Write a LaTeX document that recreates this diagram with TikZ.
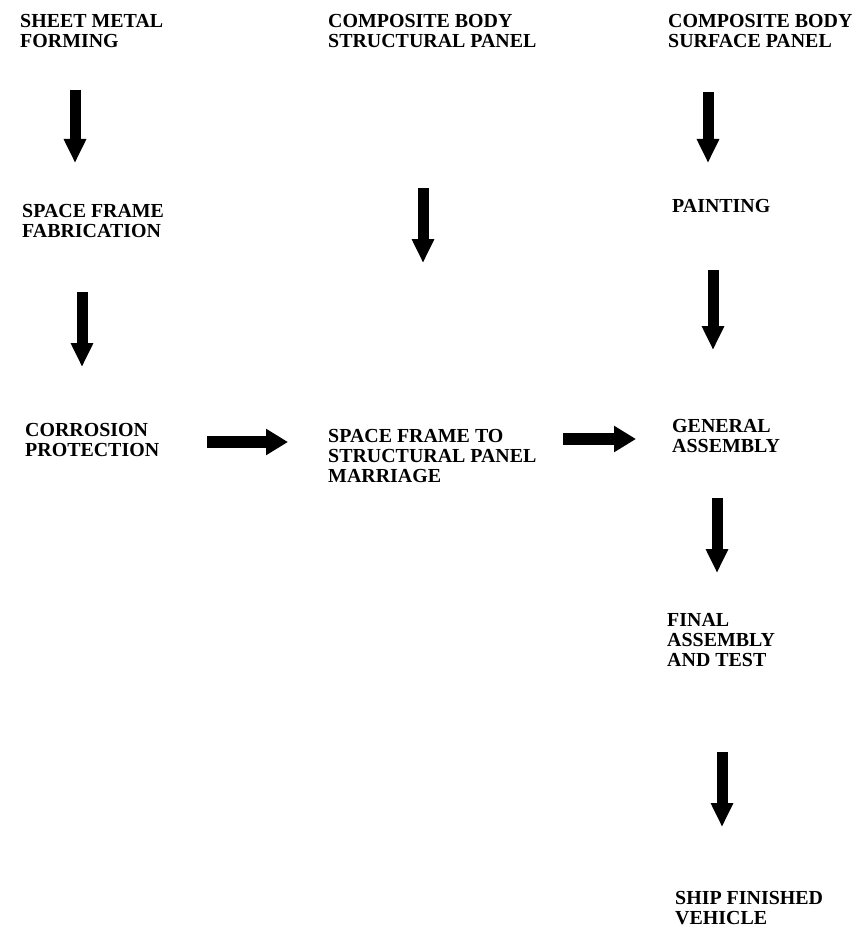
\documentclass[tikz,border=0pt]{standalone}
\usepackage{fontspec}
\setmainfont{Liberation Serif}
\usetikzlibrary{arrows.meta}

\begin{document}
\begin{tikzpicture}[
    x=0.3mm, y=-0.3mm,
    step label/.style={anchor=north west, inner sep=0pt, align=left, font=\bfseries\fontsize{17}{17}\selectfont},
    fat down/.style={line width=3.3mm, -{Triangle[length=7.2mm, width=6.3mm]}},
    fat right/.style={line width=3.6mm, -{Triangle[length=6.6mm, width=7.5mm]}}
  ]
    \useasboundingbox (0,0) rectangle (867,934);

    % process steps
    \node[step label] (sheet) at (20,14) {SHEET METAL\\FORMING};
    \node[step label] (structpanel) at (328,14) {COMPOSITE BODY\\STRUCTURAL PANEL};
    \node[step label] (surfpanel) at (668,14) {COMPOSITE BODY\\SURFACE PANEL};
    \node[step label] (frame) at (22,204) {SPACE FRAME\\FABRICATION};
    \node[step label] (painting) at (672,199) {PAINTING};
    \node[step label] (corrosion) at (25,423) {CORROSION\\PROTECTION};
    \node[step label] (marriage) at (328,429) {SPACE FRAME TO\\STRUCTURAL PANEL\\MARRIAGE};
    \node[step label] (general) at (672,419) {GENERAL\\ASSEMBLY};
    \node[step label] (final) at (667,613) {FINAL\\ASSEMBLY\\AND TEST};
    \node[step label] (ship) at (675,891) {SHIP FINISHED\\VEHICLE};

    % arrow ends
    \coordinate (sheet-out) at (75,90);   \coordinate (frame-in) at (75,163);
    \coordinate (frame-out) at (82,292);  \coordinate (corrosion-in) at (82,367);
    \coordinate (struct-out) at (423,188); \coordinate (marriage-in) at (423,263);
    \coordinate (surf-out) at (708,92);   \coordinate (painting-in) at (708,163);
    \coordinate (painting-out) at (713,270); \coordinate (general-in) at (713,350);
    \coordinate (corrosion-out) at (207,442); \coordinate (marriage-left) at (288,442);
    \coordinate (marriage-out) at (563,439); \coordinate (general-left) at (636,439);
    \coordinate (general-out) at (717,498); \coordinate (final-in) at (717,573);
    \coordinate (final-out) at (722,752); \coordinate (ship-in) at (722,827);

    \draw[fat down] (sheet-out) -- (frame-in);
    \draw[fat down] (frame-out) -- (corrosion-in);
    \draw[fat down] (struct-out) -- (marriage-in);
    \draw[fat down] (surf-out) -- (painting-in);
    \draw[fat down] (painting-out) -- (general-in);
    \draw[fat right] (corrosion-out) -- (marriage-left);
    \draw[fat right] (marriage-out) -- (general-left);
    \draw[fat down] (general-out) -- (final-in);
    \draw[fat down] (final-out) -- (ship-in);
  \end{tikzpicture}
\end{document}
